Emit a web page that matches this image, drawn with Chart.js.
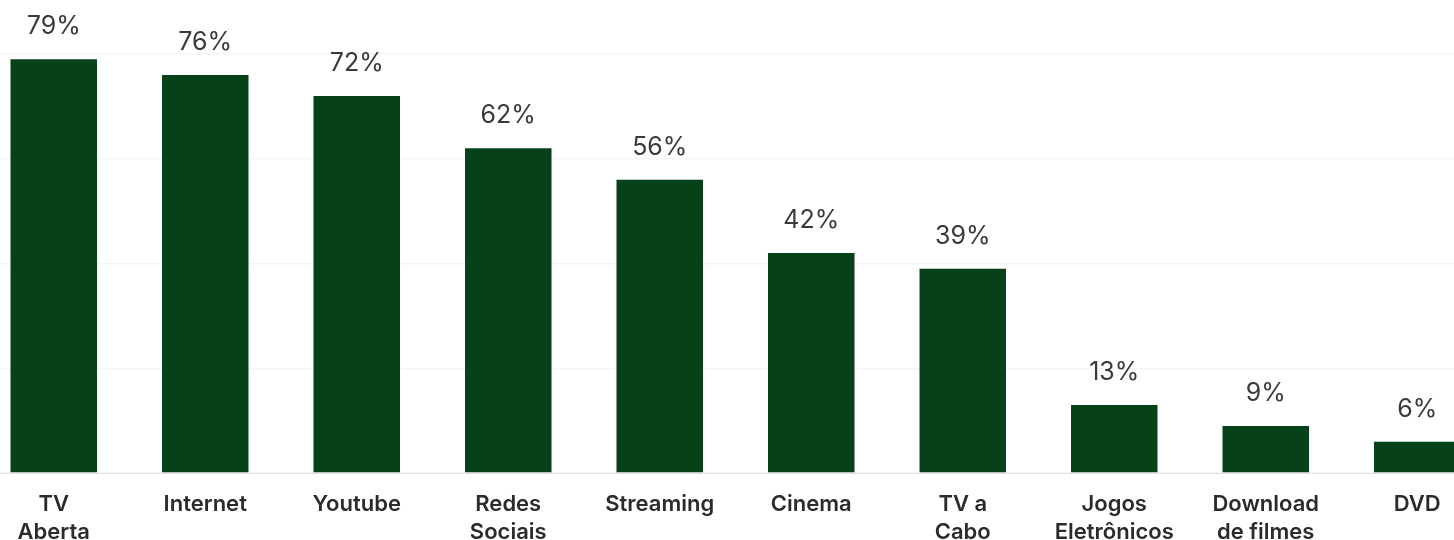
<!DOCTYPE html>
<html>
<head>
<meta charset="utf-8">
<script src="https://cdn.jsdelivr.net/npm/chart.js@4/dist/chart.umd.min.js"></script>
<style>
  html, body { margin: 0; padding: 0; background: #ffffff; overflow: hidden; }
  #wrap { position: absolute; left: -22px; top: 0; width: 1515px; height: 563px; }
</style>
</head>
<body>
<div id="wrap"><canvas id="chart"></canvas></div>
<script>
// Media consumption shares (%)
const categories = [
  ['TV', 'Aberta'], 'Internet', 'Youtube', ['Redes', 'Sociais'], 'Streaming',
  'Cinema', ['TV a', 'Cabo'], ['Jogos', 'Eletrônicos'], ['Download', 'de filmes'], 'DVD'
];
const shares = [79, 76, 72, 62, 56, 42, 39, 13, 9, 6];
const yTicks = [0, 20, 40, 60, 80];

// Percentage label drawn above every bar
const valueLabels = {
  id: 'valueLabels',
  afterDatasetsDraw(chart) {
    const ctx = chart.ctx;
    const meta = chart.getDatasetMeta(0);
    ctx.save();
    ctx.font = '400 25px Inter, "Noto Sans", sans-serif';
    ctx.fillStyle = '#3a3a3a';
    ctx.textAlign = 'center';
    ctx.textBaseline = 'alphabetic';
    meta.data.forEach((bar, i) => {
      ctx.fillText(shares[i] + '%', bar.x, bar.y - 25);
    });
    ctx.restore();
  }
};

new Chart(document.getElementById('chart'), {
  type: 'bar',
  data: {
    labels: categories,
    datasets: [{
      data: shares,
      backgroundColor: '#06411a',
      borderWidth: 0,
      barPercentage: 0.571,
      categoryPercentage: 1.0
    }]
  },
  options: {
    responsive: true,
    maintainAspectRatio: false,
    animation: false,
    layout: { padding: { top: 54, left: 0, right: 0, bottom: 0 } },
    plugins: { legend: { display: false }, tooltip: { enabled: false } },
    scales: {
      x: {
        grid: { display: false, drawTicks: false },
        border: { display: true, color: '#e2e2e2', width: 1 },
        ticks: {
          color: '#2b2b2b',
          font: { family: 'Inter, "Noto Sans", sans-serif', size: 22, weight: '600', lineHeight: 1.27 },
          padding: 17,
          maxRotation: 0,
          autoSkip: false
        }
      },
      y: {
        min: 0,
        max: 80,
        afterBuildTicks(axis) { axis.ticks = yTicks.map(v => ({ value: v })); },
        grid: { color: '#f5f5f5', lineWidth: 1.5, drawTicks: false },
        border: { display: false },
        ticks: { display: false }
      }
    }
  },
  plugins: [valueLabels]
});
</script>
</body>
</html>
